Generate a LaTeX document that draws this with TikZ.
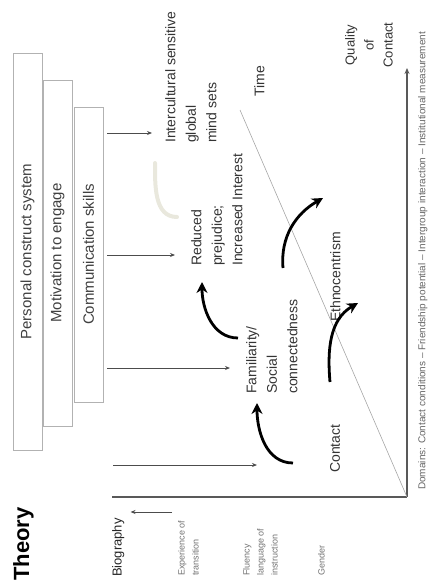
\documentclass[tikz,border=0pt]{standalone}
\usepackage{fontspec}
\setmainfont{Liberation Sans}
\usetikzlibrary{arrows.meta}

\begin{document}
\begin{tikzpicture}[x=1pt, y=1pt,
  box/.style={draw=gray!60, line width=0.8pt, fill=white, rotate=90,
              minimum height=29pt, inner sep=0pt, text=black!75,
              font=\fontsize{15}{18}\selectfont},
  lbl/.style={rotate=90, anchor=north west, inner sep=0pt, align=left,
              text=black!80, font=\fontsize{14}{20.5}\selectfont},
  tiny/.style={rotate=90, anchor=north west, inner sep=0pt, align=left,
              text=black!55, font=\fontsize{9}{14}\selectfont},
  lnk/.style={-{Stealth[length=5pt,width=4pt]}, line width=0.9pt, draw=black!70},
  bendarr/.style={-{Stealth[length=11pt,width=11pt]}, line width=2.8pt},
  faded/.style={line width=4pt, draw=yellow!20!gray!25, line cap=round},
  axis/.style={line width=1.5pt, draw=black!65},
]
  \useasboundingbox (0,0) rectangle (432,-588);

  % theory side
  \node[box, minimum width=397pt] (pcs) at (27.5,-251.5) {Personal construct system};
  \node[box, minimum width=346pt] (mot) at (57.5,-253) {Motivation to engage};
  \node[box, minimum width=295pt] (cs)  at (88.5,-254.5) {Communication skills};
  \node[rotate=90, anchor=north west, inner sep=0pt,
        font=\bfseries\fontsize{22}{22}\selectfont] (theory) at (13,-581) {Theory};

  % biography labels
  \node[rotate=90, anchor=north west, inner sep=0pt, text=black!85,
        font=\fontsize{13}{16}\selectfont] (bio) at (112,-577) {Biography};
  \node[tiny] (exp) at (178,-576) {Experience of\\transition};
  \node[tiny] (flu) at (243,-576) {Fluency\\language of\\instruction};
  \node[tiny] (gen) at (318,-576) {Gender};
  \coordinate (b1) at (172,-512);
  \draw[lnk] (b1) -- ([xshift=6pt]bio.south |- b1);

  % stages
  \node[lbl] (inter) at (165,-143) {Intercultural sensitive\\global\\mind sets};
  \node[lbl] (red)   at (191,-266) {Reduced\\prejudice;\\Increased Interest};
  \node[lbl] (fam)   at (246,-394) {Familiarity/\\Social\\connectedness};
  \node[lbl] (con)   at (330,-473) {Contact};
  \node[lbl] (eth)   at (330,-322) {Ethnocentrism};
  \node[lbl] (time)  at (254,-97)  {Time};
  \node[rotate=90, inner sep=0pt, align=center, text=black!80,
        font=\fontsize{13}{19}\selectfont] (qoc) at (369,-45) {Quality\\of\\Contact};

  % links from the boxes
  \coordinate (t1) at (152,-133);
  \coordinate (t2) at (175,-255);
  \coordinate (t3) at (230,-368);
  \coordinate (t4) at (257,-465);
  \foreach \t in {t1,t2,t3}
    \draw[lnk] ([xshift=4pt]cs.south |- \t) -- (\t);
  \draw[lnk] ([xshift=10pt]cs.south |- t4) -- (t4);

  % axes and time line
  \coordinate (orig) at (407,-497);
  \coordinate (xend) at (112,-497);
  \coordinate (ytop) at (407,-68);
  \coordinate (dtop) at (240,-110);
  \draw[axis] (xend) -- (orig);
  \draw[axis, -{Stealth[length=6pt,width=5pt]}] (orig) -- (ytop);
  \draw[gray!70, line width=0.6pt] (orig) -- (dtop);

  % curved arrows
  \coordinate (c1a) at (293,-463); \coordinate (c1b) at (257,-403);
  \coordinate (c2a) at (238,-338); \coordinate (c2b) at (202,-282);
  \coordinate (c3a) at (330,-382); \coordinate (c3b) at (358,-303);
  \coordinate (c4a) at (283,-268); \coordinate (c4b) at (323,-198);
  \coordinate (c5a) at (177,-217); \coordinate (c5b) at (155,-163);
  \draw[bendarr] (c1a) to[out=180, in=-90] (c1b);
  \draw[bendarr] (c2a) to[out=180, in=-90] (c2b);
  \draw[bendarr] (c3a) to[out=95, in=210] (c3b);
  \draw[bendarr] (c4a) to[out=95, in=210] (c4b);
  \draw[faded] (c5a) to[out=180, in=-90] (c5b);

  % domains
  \node[rotate=90, anchor=north west, inner sep=0pt, text=black!60,
        font=\fontsize{10}{12}\selectfont] (dom) at (418,-490)
        {Domains: Contact conditions -- Friendship potential -- Intergroup interaction -- Institutional measurement};
\end{tikzpicture}
\end{document}
